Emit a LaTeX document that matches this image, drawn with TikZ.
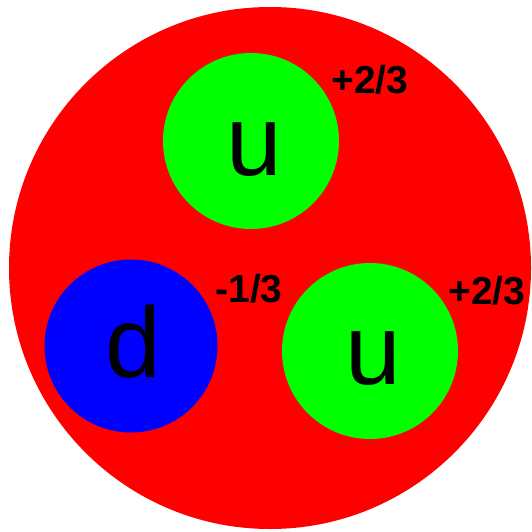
\documentclass[tikz,border=0pt]{standalone}
\usepackage{fontspec}
\setmainfont{Liberation Sans}
\definecolor{protonred}{RGB}{255,0,0}
\definecolor{quarkgreen}{RGB}{0,255,0}
\definecolor{quarkblue}{RGB}{0,0,255}
\begin{document}
\begin{tikzpicture}[x=1pt,y={(0pt,-1pt)},
  ball/.style={circle,inner sep=0pt,minimum size=#1,draw=none},
  flavour/.style={inner sep=0pt,font=\fontsize{100}{100}\selectfont,text=black},
  charge/.style={inner sep=0pt,font=\fontsize{39}{39}\selectfont\bfseries,text=black}]
\useasboundingbox (0,0) rectangle (531,532);
\node[ball=522pt,fill=protonred] (proton) at (270,268) {};
\node[ball=176pt,fill=quarkgreen] (utop) at (251,141) {};
\node[ball=173pt,fill=quarkblue] (dq) at (131,346) {};
\node[ball=176pt,fill=quarkgreen] (ubot) at (370,351) {};
\node[flavour] (utoplbl) at (254,150) {u};
\node[flavour] (dlbl) at (133,342) {d};
\node[flavour] (ubotlbl) at (373,359) {u};
\node[charge] (ctop) at (370,80) {+2/3};
\node[charge] (cd) at (249,289) {-1/3};
\node[charge] (cbot) at (487,291) {+2/3};
\end{tikzpicture}
\end{document}
